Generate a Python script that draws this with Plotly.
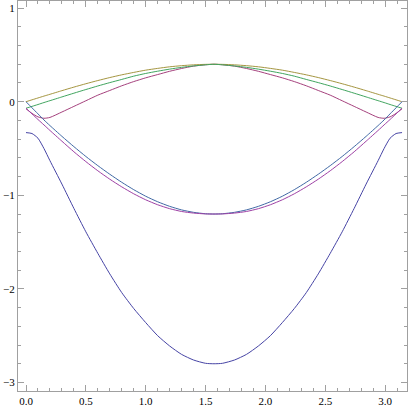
import plotly.graph_objects as go

# x positions (0 .. pi)
x = [0, 0.05, 0.1, 0.15, 0.2, 0.3, 0.4, 0.5, 0.6, 0.7, 0.8, 0.9, 1.0, 1.1, 1.2, 1.3, 1.4, 1.5, 1.5708,
     1.6416, 1.7416, 1.8416, 1.9416, 2.0416, 2.1416, 2.2416, 2.3416, 2.4416, 2.5416, 2.6416, 2.7416,
     2.8416, 2.9416, 2.9916, 3.0416, 3.0916, 3.1416]

gold = [0, 0.02, 0.04, 0.06, 0.079, 0.118, 0.156, 0.192, 0.226, 0.258, 0.287, 0.313, 0.337, 0.356, 0.373, 0.385, 0.394, 0.399, 0.4,
        0.399, 0.394, 0.385, 0.373, 0.356, 0.337, 0.313, 0.287, 0.258, 0.226, 0.192, 0.156, 0.118, 0.079, 0.06, 0.04, 0.02, 0]

green = [-0.07, -0.05, -0.03, -0.009, 0.011, 0.051, 0.091, 0.13, 0.168, 0.204, 0.238, 0.273, 0.302, 0.326, 0.348, 0.367, 0.382, 0.394, 0.4,
         0.394, 0.382, 0.367, 0.348, 0.326, 0.302, 0.273, 0.238, 0.204, 0.168, 0.13, 0.091, 0.051, 0.011, -0.009, -0.03, -0.05, -0.07]

pink = [-0.075, -0.125, -0.162, -0.177, -0.168, -0.11, -0.05, 0.01, 0.07, 0.12, 0.17, 0.215, 0.255, 0.29, 0.325, 0.355, 0.38, 0.395, 0.4,
        0.395, 0.38, 0.355, 0.325, 0.29, 0.255, 0.215, 0.17, 0.12, 0.07, 0.01, -0.05, -0.11, -0.168, -0.177, -0.162, -0.125, -0.075]

blue = [0, -0.065, -0.13, -0.195, -0.255, -0.37, -0.48, -0.585, -0.683, -0.775, -0.861, -0.94, -1.01, -1.069, -1.118, -1.156, -1.182, -1.197, -1.2,
        -1.197, -1.182, -1.156, -1.118, -1.069, -1.01, -0.94, -0.861, -0.775, -0.683, -0.585, -0.48, -0.37, -0.255, -0.195, -0.13, -0.065, 0]

purple = [-0.07, -0.13, -0.19, -0.248, -0.307, -0.422, -0.535, -0.64, -0.738, -0.828, -0.91, -0.984, -1.048, -1.101, -1.143, -1.173, -1.19, -1.199, -1.2,
          -1.199, -1.19, -1.173, -1.143, -1.101, -1.048, -0.984, -0.91, -0.828, -0.738, -0.64, -0.535, -0.422, -0.307, -0.248, -0.19, -0.13, -0.07]

deep = [-0.33, -0.34, -0.39, -0.5, -0.63, -0.88, -1.14, -1.39, -1.62, -1.84, -2.04, -2.21, -2.36, -2.5, -2.61, -2.7, -2.76, -2.795, -2.8,
        -2.795, -2.76, -2.7, -2.61, -2.5, -2.36, -2.21, -2.04, -1.84, -1.62, -1.39, -1.14, -0.88, -0.63, -0.5, -0.39, -0.34, -0.33]

series = [
    (deep, "rgb(70,68,165)"),
    (pink, "rgb(165,65,125)"),
    (gold, "rgb(165,150,65)"),
    (green, "rgb(65,165,95)"),
    (blue, "rgb(65,105,165)"),
    (purple, "rgb(158,65,165)"),
]

x_ticks = [0.0, 0.5, 1.0, 1.5, 2.0, 2.5, 3.0]
y_ticks = [-3, -2, -1, 0, 1]

fig = go.Figure()
for ys, col in series:
    fig.add_trace(go.Scatter(x=x, y=ys, mode="lines", line=dict(color=col, width=1, shape="spline", smoothing=0.6),
                             showlegend=False, hoverinfo="skip"))

axis_common = dict(
    showgrid=False, zeroline=False, showline=True, linecolor="rgb(160,160,160)", linewidth=1,
    mirror="ticks", ticks="inside", tickcolor="rgb(160,160,160)", tickwidth=1, automargin=False,
    tickfont=dict(family="Liberation Serif", size=11, color="black"),
)

fig.update_xaxes(range=[-0.0668, 3.183], tickvals=x_ticks, ticktext=[f"{v:.1f}" for v in x_ticks],
                 ticklen=6, ticklabelstandoff=0,
                 minor=dict(ticks="inside", dtick=0.1, ticklen=3, tickcolor="rgb(160,160,160)"),
                 **axis_common)
fig.update_yaxes(range=[-3.091, 1.076], tickvals=y_ticks, ticktext=["\u22123", "\u22122", "\u22121", "0", "1"],
                 ticklen=6, ticklabelstandoff=0,
                 minor=dict(ticks="inside", dtick=0.2, ticklen=3, tickcolor="rgb(160,160,160)"),
                 **axis_common)

fig.update_layout(width=409, height=407, margin=dict(l=18, r=2, t=1, b=16),
                  paper_bgcolor="white", plot_bgcolor="white")

fig.write_html("out.html", config={"displayModeBar": False},
               post_script="document.body.style.margin='0';document.body.style.overflow='hidden';")
